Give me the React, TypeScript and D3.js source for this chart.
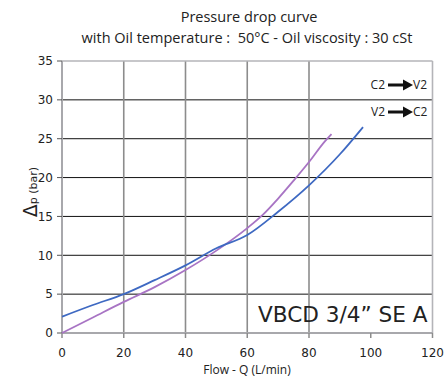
import React from "react";
import * as d3 from "d3";

const W = 448;
const H = 382;

const titleLines = ["Pressure drop curve", "with Oil temperature :\u00A0 50°C - Oil viscosity : 30 cSt"];
const xTicks = [0, 20, 40, 60, 80, 100, 120];
const yTicks = [0, 5, 10, 15, 20, 25, 30, 35];
const xGrid = [20, 40, 60, 80];
const yGrid = [5, 10, 15, 20, 25, 30];

// C2 -> V2 (blue)
const blueFlow = [0, 10, 20, 30, 40, 50, 60, 70, 80, 90, 97.5];
const blueDp = [2.1, 3.6, 5.0, 6.8, 8.7, 10.9, 12.6, 15.6, 19.0, 23.0, 26.5];
// V2 -> C2 (purple)
const purpleFlow = [0, 10, 20, 30, 40, 50, 60, 65, 70, 75, 80, 85, 87.3];
const purpleDp = [0, 2.0, 4.0, 5.9, 8.1, 10.6, 13.5, 15.2, 17.3, 19.6, 22.0, 24.6, 25.6];

const legendRows = [
  { from: "C2", to: "V2" },
  { from: "V2", to: "C2" },
];

const modelLabel = "VBCD 3/4\u201D SE A";

export default function App() {
  const x = d3.scaleLinear().domain([0, 120]).range([62, 432.5]);
  const y = d3.scaleLinear().domain([0, 35]).range([333, 61]);
  const line = d3
    .line<[number, number]>()
    .x((d) => x(d[0]))
    .y((d) => y(d[1]))
    .curve(d3.curveMonotoneX);
  const blue: [number, number][] = blueFlow.map((f, i) => [f, blueDp[i]]);
  const purple: [number, number][] = purpleFlow.map((f, i) => [f, purpleDp[i]]);

  const tickFont = "'DejaVu Sans', sans-serif";
  const titleFont = "'Open Sans', sans-serif";

  return (
    <svg
      width={W}
      height={H}
      style={{ position: "absolute", left: 0, top: 0, background: "#fff" }}
    >
      {/* title */}
      <text x={249} y={22} textAnchor="middle" fontFamily={titleFont} fontSize={14.5} fill="#222">
        {titleLines[0]}
      </text>
      <text x={247} y={43} textAnchor="middle" fontFamily={titleFont} fontSize={14.5} fill="#222">
        {titleLines[1]}
      </text>

      {/* horizontal grid */}
      {yGrid.map((v) => (
        <line key={"hg" + v} x1={x(0)} x2={x(120)} y1={y(v)} y2={y(v)} stroke="#111" strokeWidth={1} />
      ))}
      {/* vertical grid */}
      {xGrid.map((v) => (
        <line key={"vg" + v} x1={x(v)} x2={x(v)} y1={y(35)} y2={y(0)} stroke="#8c8c8c" strokeWidth={1.6} />
      ))}
      {/* frame */}
      <line x1={x(0)} x2={x(120)} y1={y(35)} y2={y(35)} stroke="#b4b4b8" strokeWidth={1.6} />
      <line x1={x(120)} x2={x(120)} y1={y(35)} y2={y(0)} stroke="#b4b4b8" strokeWidth={1.6} />
      <line x1={x(0)} x2={x(120)} y1={y(0)} y2={y(0)} stroke="#a8a8ac" strokeWidth={2} />
      <line x1={x(0)} x2={x(0)} y1={y(35)} y2={y(0)} stroke="#a8a8ac" strokeWidth={2} />

      {/* y ticks */}
      {yTicks.map((v) => (
        <g key={"yt" + v}>
          <line x1={x(0) - 5} x2={x(0)} y1={y(v)} y2={y(v)} stroke="#555" strokeWidth={1} />
          <text x={53} y={y(v)} dy="0.36em" textAnchor="end" fontFamily={tickFont} fontSize={12} fill="#222">
            {v}
          </text>
        </g>
      ))}
      {/* x ticks */}
      {xTicks.map((v) => (
        <g key={"xt" + v}>
          <line x1={x(v)} x2={x(v)} y1={y(0)} y2={y(0) + 5} stroke="#8c8c8c" strokeWidth={1.5} />
          <text x={x(v)} y={357} textAnchor="middle" fontFamily={tickFont} fontSize={12} fill="#222">
            {v}
          </text>
        </g>
      ))}

      {/* axis titles */}
      <text x={247} y={374} textAnchor="middle" fontFamily={titleFont} fontSize={12} fill="#222">
        Flow - Q (L/min)
      </text>
      <text
        transform="translate(37,192) rotate(-90)"
        textAnchor="middle"
        fontFamily={tickFont}
        fill="#222"
      >
        <tspan fontSize={19}>Δ</tspan>
        <tspan fontSize={11}>p (bar)</tspan>
      </text>

      {/* curves */}
      <path d={line(purple) || ""} fill="none" stroke="#a874c4" strokeWidth={1.8} />
      <path d={line(blue) || ""} fill="none" stroke="#3e69c2" strokeWidth={1.8} />

      {/* legend */}
      {legendRows.map((r, i) => {
        const cy = 85 + i * 27;
        return (
          <g key={"lg" + i}>
            <text x={385} y={cy} dy="0.36em" textAnchor="end" fontFamily={titleFont} fontSize={12} fill="#222">
              {r.from}
            </text>
            <line x1={388} x2={404} y1={cy} y2={cy} stroke="#111" strokeWidth={3} />
            <path d={`M403,${cy - 5.5} L413,${cy} L403,${cy + 5.5} Z`} fill="#111" />
            <text x={413} y={cy} dy="0.36em" textAnchor="start" fontFamily={titleFont} fontSize={12} fill="#222">
              {r.to}
            </text>
          </g>
        );
      })}

      {/* model label */}
      <text x={258} y={322} fontFamily={tickFont} fontSize={21.6} fill="#222">
        {modelLabel}
      </text>
    </svg>
  );
}
